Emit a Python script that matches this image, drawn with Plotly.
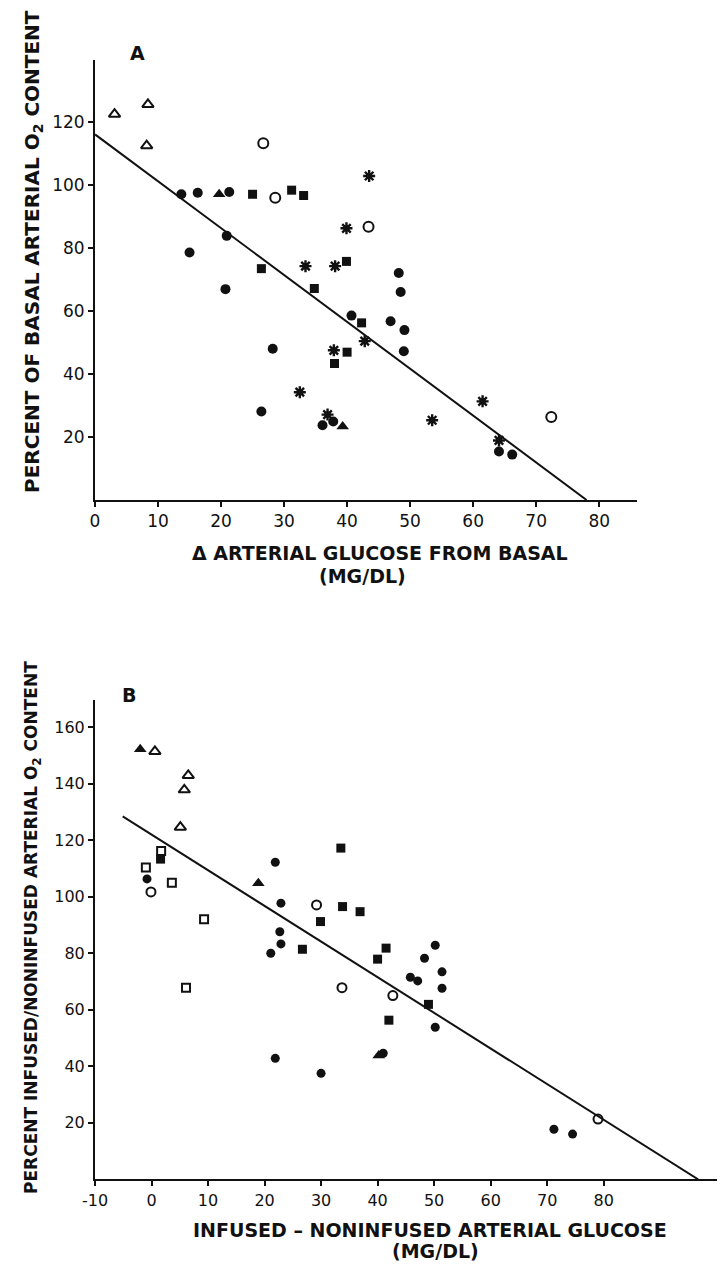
import plotly.graph_objects as go

W, H = 723, 1264

# ---------------- Panel A data ----------------
a_open_tri_x = [3.1, 8.4, 8.2]
a_open_tri_y = [122.4, 125.5, 112.4]
a_fill_tri_x = [19.7, 39.3]
a_fill_tri_y = [97.0, 23.3]
a_open_circ_x = [26.7, 28.6, 43.4, 72.4]
a_open_circ_y = [113.2, 95.9, 86.7, 26.3]
a_fill_circ_x = [13.7, 16.3, 21.3, 20.9, 15.0, 20.7, 48.2, 48.5, 40.7, 46.9, 49.1,
                 28.2, 49.0, 26.4, 36.1, 37.8, 64.1, 66.2]
a_fill_circ_y = [97.0, 97.5, 97.7, 83.8, 78.5, 66.9, 72.0, 66.0, 58.5, 56.7, 53.9,
                 48.0, 47.2, 28.1, 23.7, 24.9, 15.4, 14.4]
a_fill_sq_x = [25.0, 31.2, 33.1, 39.9, 26.4, 34.8, 42.3, 40.0, 38.0]
a_fill_sq_y = [97.0, 98.3, 96.6, 75.7, 73.4, 67.1, 56.2, 46.9, 43.3]
a_ast_x = [43.5, 39.9, 33.4, 38.1, 42.8, 37.9, 32.5, 36.9, 53.5, 61.5, 64.1]
a_ast_y = [102.8, 86.2, 74.2, 74.2, 50.4, 47.5, 34.2, 27.1, 25.3, 31.3, 18.9]
a_fit_x = [0.0, 78.0]
a_fit_y = [116.0, 0.0]
a_xticks = [0, 10, 20, 30, 40, 50, 60, 70, 80]
a_yticks = [20, 40, 60, 80, 100, 120]

# ---------------- Panel B data ----------------
b_fill_tri_x = [-2.0, 18.9, 40.2]
b_fill_tri_y = [152.2, 104.8, 43.8]
b_open_tri_x = [0.6, 6.5, 5.8, 5.1]
b_open_tri_y = [151.4, 142.9, 137.8, 124.6]
b_open_sq_x = [1.7, -1.0, 3.6, 9.3, 6.1]
b_open_sq_y = [116.2, 110.3, 104.9, 92.0, 67.8]
b_fill_sq_x = [1.6, 33.5, 33.8, 36.9, 29.9, 26.7, 41.5, 40.0, 49.0, 42.0]
b_fill_sq_y = [113.3, 117.2, 96.5, 94.7, 91.2, 81.4, 81.8, 77.9, 61.9, 56.3]
b_open_circ_x = [-0.1, 29.2, 33.7, 42.7, 79.0]
b_open_circ_y = [101.7, 97.1, 67.8, 65.0, 21.3]
b_fill_circ_x = [-0.8, 21.9, 22.9, 22.7, 22.9, 21.1, 48.3, 45.8, 47.1, 50.2, 51.4,
                 51.4, 50.2, 21.9, 30.0, 41.0, 71.2, 74.5]
b_fill_circ_y = [106.3, 112.2, 97.7, 87.6, 83.3, 80.0, 78.2, 71.5, 70.2, 82.8, 73.4,
                 67.6, 53.8, 42.8, 37.5, 44.6, 17.7, 16.0]
b_fit_x = [-5.1, 96.7]
b_fit_y = [128.4, 0.0]
b_xticks = [-10, 0, 10, 20, 30, 40, 50, 60, 70, 80]
b_xticktext = ["-10", "0", "10", "20", "30", "40", "50", "60", "70", "80"]
b_yticks = [20, 40, 60, 80, 100, 120, 140, 160]

FONT = "DejaVu Sans"
BLACK = "#111111"

fig = go.Figure()


def add_pts(x, y, symbol, size, xa, ya, lw=0):
    fig.add_trace(go.Scatter(
        x=x, y=y, mode="markers", xaxis=xa, yaxis=ya, showlegend=False,
        cliponaxis=False, hoverinfo="skip",
        marker=dict(symbol=symbol, size=size, color=BLACK,
                    line=dict(width=lw, color=BLACK))))


def add_ast(x, y, xa, ya, size):
    fig.add_trace(go.Scatter(
        x=x, y=y, mode="markers", xaxis=xa, yaxis=ya, showlegend=False,
        cliponaxis=False, hoverinfo="skip",
        marker=dict(symbol="asterisk", size=size, color=BLACK,
                    line=dict(width=2.4, color=BLACK))))
    fig.add_trace(go.Scatter(
        x=x, y=y, mode="markers", xaxis=xa, yaxis=ya, showlegend=False,
        cliponaxis=False, hoverinfo="skip",
        marker=dict(symbol="circle", size=6, color=BLACK)))


def add_line(x, y, xa, ya):
    fig.add_trace(go.Scatter(
        x=x, y=y, mode="lines", xaxis=xa, yaxis=ya, showlegend=False,
        cliponaxis=False, hoverinfo="skip",
        line=dict(color=BLACK, width=2)))


# Panel A
add_line(a_fit_x, a_fit_y, "x", "y")
add_pts(a_open_tri_x, a_open_tri_y, "triangle-up-open", 10, "x", "y", lw=2)
add_pts(a_fill_tri_x, a_fill_tri_y, "triangle-up", 11, "x", "y")
add_pts(a_open_circ_x, a_open_circ_y, "circle-open", 10, "x", "y", lw=2)
add_pts(a_fill_circ_x, a_fill_circ_y, "circle", 10, "x", "y")
add_pts(a_fill_sq_x, a_fill_sq_y, "square", 9, "x", "y")
add_ast(a_ast_x, a_ast_y, "x", "y", 10)

# Panel B
add_line(b_fit_x, b_fit_y, "x2", "y2")
add_pts(b_open_tri_x, b_open_tri_y, "triangle-up-open", 10, "x2", "y2", lw=2)
add_pts(b_fill_tri_x, b_fill_tri_y, "triangle-up", 11, "x2", "y2")
add_pts(b_open_sq_x, b_open_sq_y, "square-open", 8, "x2", "y2", lw=2)
add_pts(b_fill_sq_x, b_fill_sq_y, "square", 9, "x2", "y2")
add_pts(b_open_circ_x, b_open_circ_y, "circle-open", 9, "x2", "y2", lw=2)
add_pts(b_fill_circ_x, b_fill_circ_y, "circle", 9, "x2", "y2")


def dx(p):
    return p / W


def dy(p):
    return 1 - p / H


axis_common = dict(showline=True, linecolor=BLACK, linewidth=2, mirror=False,
                   showgrid=False, zeroline=False, ticks="outside", ticklen=5,
                   tickwidth=1.5, tickcolor=BLACK, tickmode="array", automargin=False)

fig.update_layout(
    template="none",
    width=W, height=H, margin=dict(l=0, r=0, t=0, b=0, pad=0, autoexpand=False),
    paper_bgcolor="white", plot_bgcolor="white",
    font=dict(family=FONT, color=BLACK),
    xaxis=dict(domain=[dx(95), dx(637)], range=[0, 86], anchor="y",
               tickvals=a_xticks, tickfont=dict(size=17, family=FONT, color=BLACK), **axis_common),
    yaxis=dict(domain=[dy(500), dy(60)], range=[0, 139.6], anchor="x",
               tickvals=a_yticks, tickfont=dict(size=17, family=FONT, color=BLACK), **axis_common),
    xaxis2=dict(domain=[dx(95), dx(716.7)], range=[-10, 100], anchor="y2",
                tickvals=b_xticks, ticktext=b_xticktext,
                tickfont=dict(size=16, family=FONT, color=BLACK), **axis_common),
    yaxis2=dict(domain=[dy(1179.3), dy(700)], range=[0, 169.6], anchor="x2",
                tickvals=b_yticks, tickfont=dict(size=16, family=FONT, color=BLACK), **axis_common),
)


def tf(size):
    return dict(family=FONT, size=size, color=BLACK, weight="bold")


ann = [
    dict(text="A", x=dx(137), y=dy(53), font=tf(19)),
    dict(text="B", x=dx(129), y=dy(695), font=tf(19)),
    dict(text="Δ ARTERIAL GLUCOSE FROM BASAL", x=dx(380), y=dy(553), font=tf(19)),
    dict(text="(MG/DL)", x=dx(362), y=dy(576), font=tf(19)),
    dict(text="INFUSED – NONINFUSED ARTERIAL GLUCOSE", x=dx(430), y=dy(1230), font=tf(19)),
    dict(text="(MG/DL)", x=dx(435), y=dy(1251), font=tf(19)),
    dict(text="PERCENT OF BASAL ARTERIAL O<sub>2</sub> CONTENT", x=dx(33), y=dy(252),
         textangle=-90, font=tf(20)),
    dict(text="PERCENT INFUSED/NONINFUSED ARTERIAL O<sub>2</sub> CONTENT", x=dx(32), y=dy(928),
         textangle=-90, font=tf(17)),
]
for a in ann:
    a.update(xref="paper", yref="paper", showarrow=False, xanchor="center", yanchor="middle")
fig.update_layout(annotations=ann)

fig.write_html("out.html")
